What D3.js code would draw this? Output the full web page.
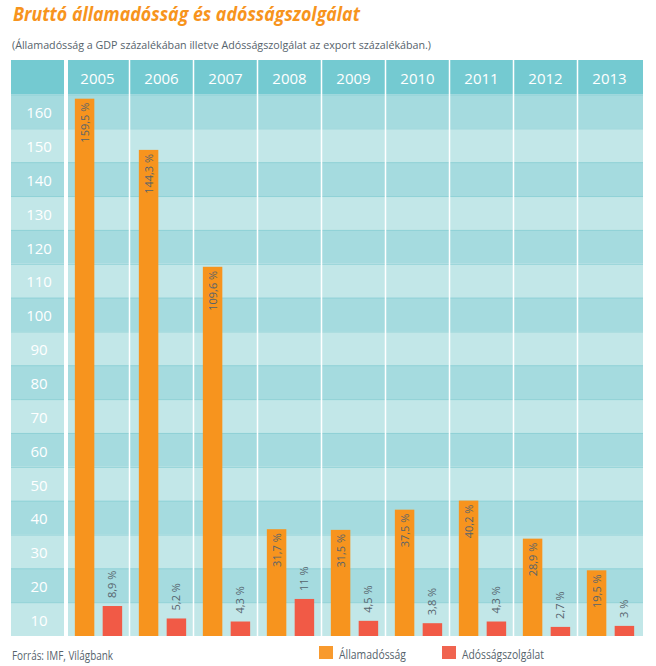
<!DOCTYPE html>
<html><head><meta charset="utf-8">
<script src="https://cdn.jsdelivr.net/npm/d3@7"></script>
<style>body{margin:0;background:#fff}svg{display:block;font-family:"Open Sans",sans-serif}</style>
</head><body><svg id="c" width="656" height="666"></svg>
<script>
const years = ["2005","2006","2007","2008","2009","2010","2011","2012","2013"];
const debt = [159.5,144.3,109.6,31.7,31.5,37.5,40.2,28.9,19.5];
const service = [8.9,5.2,4.3,11,4.5,3.8,4.3,2.7,3];
const rowLabels = ["160","150","140","130","120","110","100","90","80","70","60","50","40","30","20","10"];
const seriesNames = ["Államadósság","Adósságszolgálat"];
const title = "Bruttó államadósság és adósságszolgálat";
const subtitle = "(Államadósság a GDP százalékában illetve Adósságszolgálat az export százalékában.)";
const source = "Forrás: IMF, Világbank";

const C = {header:"#74cad1", dark:"#a5dbdf", light:"#c2e7e8", line:"#8fd1d6", orange:"#f7941e", red:"#f15a46", txt:"#56636c"};
const svg = d3.select("#c");
const L=11, R=643, pTop=60, hBot=94.5, bot=636;

const x = d3.scaleBand().domain(years).range([65.5,641.5]);
const xs = d3.scaleBand().domain(["debt","service"]).range([1,65]).paddingInner(0.3).paddingOuter(0.3);
const yRow = d3.scaleBand().domain(rowLabels).range([hBot,bot]);
const y = d3.scaleLinear().domain([0,160]).range([bot,97]);
const fmt = v => String(v).replace(".",",") + " %";

// title
svg.append("text").attr("x",13).attr("y",20.5).attr("fill","#f7941d")
  .attr("font-size",19).attr("font-weight",700).attr("font-style","italic")
  .attr("textLength",347).attr("lengthAdjust","spacingAndGlyphs").text(title);
svg.append("text").attr("x",12).attr("y",49).attr("fill",C.txt)
  .attr("font-size",11).attr("textLength",419).attr("lengthAdjust","spacingAndGlyphs").text(subtitle);

// header
svg.append("rect").attr("x",L).attr("y",pTop).attr("width",R-L).attr("height",hBot-pTop).attr("fill",C.header);
// rows
svg.selectAll("rect.row").data(rowLabels).join("rect").attr("class","row")
  .attr("x",L).attr("width",R-L).attr("y",d=>yRow(d)).attr("height",yRow.bandwidth())
  .attr("fill",(d,i)=>i%2===0?C.dark:C.light);
svg.selectAll("line.row").data(rowLabels).join("line").attr("class","row")
  .attr("x1",L).attr("x2",R).attr("y1",d=>yRow(d)+0.5).attr("y2",d=>yRow(d)+0.5)
  .attr("stroke",C.line).attr("stroke-width",1);
// white separators
svg.append("rect").attr("x",64).attr("y",pTop).attr("width",4).attr("height",bot-pTop).attr("fill","#fff");
svg.selectAll("rect.sep").data(years.slice(1)).join("rect").attr("class","sep")
  .attr("x",d=>x(d)-0.75).attr("width",1.5).attr("y",pTop).attr("height",bot-pTop).attr("fill","#fff");

// year labels
svg.selectAll("text.year").data(years).join("text").attr("class","year")
  .attr("x",d=>x(d)+x.bandwidth()/2).attr("y",84).attr("text-anchor","middle")
  .attr("fill","#fff").attr("font-size",15).text(d=>d);
// row labels
svg.selectAll("text.rl").data(rowLabels).join("text").attr("class","rl")
  .attr("x",39).attr("y",d=>yRow(d)+yRow.bandwidth()/2+6.8).attr("text-anchor","middle")
  .attr("fill","#fff").attr("font-size",15).text(d=>d);

// bars
const bw = xs.bandwidth();
svg.selectAll("rect.debt").data(debt).join("rect").attr("class","debt")
  .attr("x",(d,i)=>x(years[i])+xs("debt")).attr("width",bw)
  .attr("y",d=>y(d)).attr("height",d=>bot-y(d)).attr("fill",C.orange);
svg.selectAll("rect.serv").data(service).join("rect").attr("class","serv")
  .attr("x",(d,i)=>x(years[i])+xs("service")).attr("width",bw)
  .attr("y",d=>y(d)).attr("height",d=>bot-y(d)).attr("fill",C.red);

// value labels
svg.selectAll("text.dl").data(debt).join("text").attr("class","dl")
  .attr("transform",(d,i)=>`translate(${x(years[i])+xs("debt")+bw/2+4},${y(d)+4}) rotate(-90)`)
  .attr("text-anchor","end").attr("font-size",11).attr("fill",C.txt).text(d=>fmt(d));
svg.selectAll("text.sl").data(service).join("text").attr("class","sl")
  .attr("transform",(d,i)=>`translate(${x(years[i])+xs("service")+bw/2+4},${y(d)-8}) rotate(-90)`)
  .attr("text-anchor","start").attr("font-size",11).attr("fill",C.txt).text(d=>fmt(d));

// footer
svg.append("text").attr("x",12).attr("y",660).attr("fill",C.txt).attr("font-size",12)
  .attr("textLength",101).attr("lengthAdjust","spacingAndGlyphs").text(source);
const leg = [{x:319,c:"#f89a2e",t:seriesNames[0],w:67},{x:442,c:"#f06450",t:seriesNames[1],w:82}];
leg.forEach(l=>{
  svg.append("rect").attr("x",l.x).attr("y",646).attr("width",14).attr("height",13).attr("fill",l.c);
  svg.append("text").attr("x",l.x+20).attr("y",659).attr("fill",C.txt).attr("font-size",12)
    .attr("textLength",l.w).attr("lengthAdjust","spacingAndGlyphs").text(l.t);
});
</script></body></html>
